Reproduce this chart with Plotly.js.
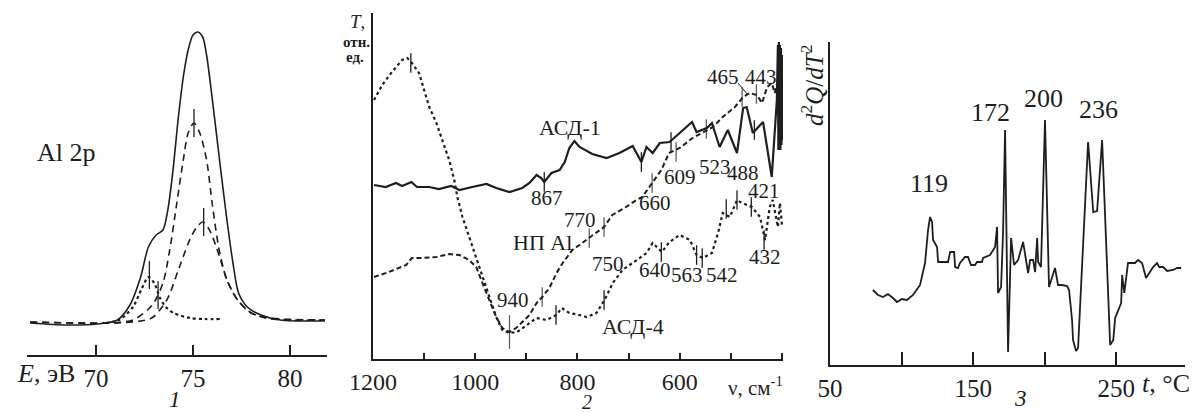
<!DOCTYPE html>
<html>
<head>
<meta charset="utf-8">
<script src="https://cdn.plot.ly/plotly-3.0.1.min.js"></script>
<style>html,body{margin:0;padding:0;background:#fff}#chart{width:1200px;height:412px}</style>
</head>
<body>
<div id="chart"></div>
<script>
// ---------- Panel 1: XPS Al 2p (E, eV vs intensity, arb. units) ----------
const p1SumE  = [66.6,68.5,70.05,71.1,71.75,72.3,72.7,73.1,73.45,73.7,73.97,74.23,74.5,74.75,75.0,75.25,75.5,75.7,76.0,76.4,76.75,77.06,77.35,77.8,78.5,79.5,81.8];
const p1SumI  = [32,30,31,35,50,78,108,120,125,145,185,235,278,305,320,323,318,300,255,190,135,92,62,48,40,35,34];
const p1D1E   = [66.6,70.2,71.9,72.9,73.45,73.8,74.15,74.5,74.75,75.05,75.35,75.7,76.0,76.35,76.75,77.3,78.0,79.0,81.8];
const p1D1I   = [33,32,35,50,72,105,150,195,222,232,222,195,150,105,75,55,42,36,35];
const p1D2E   = [66.6,71.1,72.6,72.95,73.65,74.3,74.85,75.2,75.5,75.85,76.2,76.5,76.75,77.3,78.0,79.0,81.8];
const p1D2I   = [33,32,35,38,55,88,116,128,133,125,108,90,75,55,42,37,35];
const p1DotE  = [70.5,71.2,71.9,72.35,72.7,73.0,73.3,73.6,74.0,74.85,75.6,76.4];
const p1DotI  = [32,35,48,66,78,72,57,48,42,37,36,36];
const p1TickE = [75.05,75.55,72.75,73.2];
const p1TickI = [232,133,80,60];
const p1Ticks = [70,75,80];

// ---------- Panel 2: IR transmission (nu, cm-1 vs T, rel. units) ----------
const asd1Nu = [1198,1175,1155,1143,1125,1114,1090,1071,1047,1031,1006,978,959,933,908,894,880,871,865,851,835,825,816,806,796,771,743,718,692,675,665,653,639,620,600,576,567,547,537,522,506,488,476,469,457,437,420,410,408,407,406,405,404,403,402,401,400,399];
const asd1T  = [174,172,176,173,177,172,172,170,173,169,172,175,171,167,171,176,184,181,177,186,189,197,211,218,212,205,201,206,213,197,212,206,216,217,226,237,227,231,236,212,229,206,251,252,226,237,182,259,314,209,317,211,314,209,311,214,304,219];
const npNu = [1198,1169,1135,1124,1104,1076,1051,1031,1012,998,986,973,959,947,933,920,908,894,880,869,855,841,829,810,791,777,748,732,705,685,673,654,636,621,600,575,547,535,516,492,476,463,449,439,429,420,414,408,404,400];
const npT  = [82,87,94,101,101,102,105,104,99,92,76,59,42,31,27,31,37,44,56,62,71,86,96,109,116,121,132,144,152,159,162,176,189,206,211,221,229,232,242,252,262,266,264,256,272,276,266,279,259,284];
const a4Nu = [1198,1182,1163,1143,1133,1124,1110,1100,1090,1076,1065,1051,1041,1035,1025,1012,998,986,973,959,947,933,918,900,880,861,841,831,816,796,782,763,747,731,712,684,665,653,635,620,600,580,567,555,537,525,516,502,488,478,459,443,433,424,418,408,404,400];
const a4T  = [259,274,287,299,301,296,286,269,252,236,219,199,179,162,142,122,102,82,62,42,29,26,27,34,41,39,44,51,46,44,42,46,59,76,89,99,106,116,107,117,124,119,104,101,106,126,146,142,159,156,152,142,119,152,159,132,156,134];
const asd1TickNu = [865,675,617,454];
const asd1TickT  = [177,197,217,229];
const npTickNu = [933,869,777,748,654,607,548,478,450];
const npTickT  = [27,62,121,132,176,207,230,262,265];
const a4TickNu = [1126,842,748,636,567,556,509,488,460,435];
const a4TickT  = [296,44,59,107,104,101,150,159,152,119];
const p2TickVals = [1200,1100,1000,900,800,700,600,500,400];
const p2TickText = ['1200',' ','1000',' ','800',' ','600',' ',' '];
const p2PeakLabels = ['867','609','523','488','421','465','443','660','770','940','750','640','563','542','432'];

// ---------- Panel 3: d2Q/dT2 vs t, C ----------
const tC = [80.0,83.5,87.0,90.5,94.0,96.8,100.3,103.8,108.0,112.9,116.4,118.5,119.9,121.3,122.0,124.8,125.5,132.5,133.9,136.7,137.4,139.4,140.8,144.3,146.4,148.5,151.3,152.7,156.2,156.9,161.8,165.3,166.7,167.4,169.5,170.9,172.3,174.4,176.5,178.6,181.4,184.9,188.4,189.8,191.9,193.3,194.7,195.4,197.4,200.2,203.0,205.1,207.2,209.3,212.1,215.6,217.0,219.1,219.8,221.9,223.3,230.3,233.9,236.6,240.1,245.7,247.9,249.2,252.0,253.4,254.1,255.6,258.2,261.0,263.1,265.2,268.0,270.8,272.2,275.7,278.5,279.9,282.7,285.5,289.7,292.5,295.3];
const d2Q = [75,70,68,71,67,63,66,65,70,80,102,135,148,143,125,118,103,103,113,113,98,97,102,108,108,100,100,103,103,107,110,118,138,72,78,132,235,13,127,100,105,123,92,105,105,93,127,103,98,245,78,88,97,80,80,79,75,45,25,14,17,223,153,154,225,20,25,47,58,62,90,72,102,102,102,105,102,87,90,98,102,98,98,94,95,97,97];
const p3TickVals = [50,100,150,200,250];
const p3TickText = ['50',' ','150',' ','250'];
const p3PeakLabels = ['119','172','200','236'];

// ---------- drawing ----------
const W = 1200, H = 412;
const FONT = '"Liberation Serif", "Times New Roman", "DejaVu Serif", serif';
const INK = '#1e1e1e';
const PX = x => x / W, PY = y => 1 - y / H;

const traces = [];
// panel 1
traces.push({x:p1DotE, y:p1DotI, xaxis:'x', yaxis:'y', mode:'lines', line:{color:INK, width:2.2, dash:'dot', shape:'spline', smoothing:0.8}});
traces.push({x:p1D2E, y:p1D2I, xaxis:'x', yaxis:'y', mode:'lines', line:{color:INK, width:1.6, dash:'7px,5px', shape:'spline', smoothing:0.8}});
traces.push({x:p1D1E, y:p1D1I, xaxis:'x', yaxis:'y', mode:'lines', line:{color:INK, width:1.6, dash:'7px,5px', shape:'spline', smoothing:0.8}});
traces.push({x:p1SumE, y:p1SumI, xaxis:'x', yaxis:'y', mode:'lines', line:{color:INK, width:1.6, shape:'spline', smoothing:0.8}});
traces.push({x:p1TickE, y:p1TickI, xaxis:'x', yaxis:'y', mode:'markers', marker:{symbol:'line-ns', size:20, line:{color:INK, width:1.3}}});
// panel 2
traces.push({x:a4Nu, y:a4T, xaxis:'x2', yaxis:'y2', mode:'lines', line:{color:INK, width:2.2, dash:'dot'}});
traces.push({x:npNu, y:npT, xaxis:'x2', yaxis:'y2', mode:'lines', line:{color:INK, width:2, dash:'5px,3px'}});
traces.push({x:asd1Nu, y:asd1T, xaxis:'x2', yaxis:'y2', mode:'lines', line:{color:INK, width:2.2}});
traces.push({x:asd1TickNu, y:asd1TickT, xaxis:'x2', yaxis:'y2', mode:'markers', marker:{symbol:'line-ns', size:14, line:{color:INK, width:1.3}}});
traces.push({x:npTickNu, y:npTickT, xaxis:'x2', yaxis:'y2', mode:'markers', marker:{symbol:'line-ns', size:[24,14,14,14,14,14,14,14,14], line:{color:INK, width:1.3}}});
traces.push({x:a4TickNu, y:a4TickT, xaxis:'x2', yaxis:'y2', mode:'markers', marker:{symbol:'line-ns', size:14, line:{color:INK, width:1.3}}});
// panel 3
traces.push({x:tC, y:d2Q, xaxis:'x3', yaxis:'y3', mode:'lines', line:{color:INK, width:1.8}});

const axBase = {showgrid:false, zeroline:false, showline:true, linecolor:INK, linewidth:2, ticks:'inside', tickcolor:INK, tickwidth:2, tickfont:{family:FONT, size:25, color:INK}, fixedrange:true};

const ann = [];
function txt(text, px, py, size, extra) {
  ann.push(Object.assign({text:text, xref:'paper', yref:'paper', x:PX(px), y:PY(py), xanchor:'center', yanchor:'middle', showarrow:false, font:{family:FONT, size:size, color:INK}}, extra || {}));
}
// panel 1 texts
txt('Al 2p', 66, 152, 26);
txt('<i>E</i>, эВ', 46, 373, 26);
txt('<i>1</i>', 175, 399, 23);
// panel 2 texts
txt('<i>T</i>,', 357, 22, 19);
txt('<b>отн.</b>', 356, 42, 15);
txt('<b>ед.</b>', 355, 57, 15);
txt('АСД-1', 570, 128, 22);
txt('НП Al', 542, 243, 22);
txt('АСД-4', 633, 326, 22);
txt('ν, см<sup>-1</sup>', 755, 386, 21);
txt('<i>2</i>', 587, 402, 20);
const p2LabelPos = [[547,198],[680,177],[715,167],[743,173],[764,191],[723,77],[761,77],[655,203],[580,220],[513,300],[608,264],[655,270],[687,275],[722,275],[765,257]];
p2PeakLabels.forEach((s, i) => txt(s, p2LabelPos[i][0], p2LabelPos[i][1], 21));
// panel 3 texts
const p3LabelPos = [[929,183],[990,112],[1043,98],[1098,109]];
p3PeakLabels.forEach((s, i) => txt(s, p3LabelPos[i][0], p3LabelPos[i][1], 26));
txt('<i>d</i><sup>2</sup><i>Q</i>/<i>dT</i><sup>2</sup>', 812, 86, 25, {textangle:-90});
txt('<i>t</i>, °C', 1166, 383, 26);
txt('<i>3</i>', 1020, 398, 23);

const layout = {
  width: W, height: H,
  margin: {l:0, r:0, t:0, b:0, pad:0},
  paper_bgcolor: '#fff', plot_bgcolor: 'rgba(0,0,0,0)',
  showlegend: false,
  font: {family: FONT, color: INK},
  xaxis: Object.assign({}, axBase, {domain:[PX(27), PX(327)], range:[66.44, 81.91], anchor:'y', tickvals:p1Ticks, ticklen:10}),
  yaxis: {domain:[PY(355), PY(20)], range:[0,335], visible:false, fixedrange:true},
  xaxis2: Object.assign({}, axBase, {domain:[PX(373), PX(783)], range:[1200, 398], anchor:'y2', tickvals:p2TickVals, ticktext:p2TickText, ticklen:6, tickfont:{family:FONT, size:24, color:INK}}),
  yaxis2: Object.assign({}, axBase, {domain:[PY(359), PY(13)], range:[0,346], anchor:'x2', ticks:'', showticklabels:false}),
  xaxis3: Object.assign({}, axBase, {domain:[PX(830), PX(1185)], range:[50, 298], anchor:'y3', tickvals:p3TickVals, ticktext:p3TickText, ticklen:13}),
  yaxis3: Object.assign({}, axBase, {domain:[PY(365), PY(42)], range:[0,323], anchor:'x3', ticks:'', showticklabels:false}),
  annotations: ann,
  shapes: [
    {type:'line', xref:'paper', yref:'paper', x0:PX(738), y0:PY(83), x1:PX(748), y1:PY(95), line:{color:INK, width:1}}
  ]
};

Plotly.newPlot('chart', traces, layout, {staticPlot:true, displayModeBar:false});
</script>
</body>
</html>
